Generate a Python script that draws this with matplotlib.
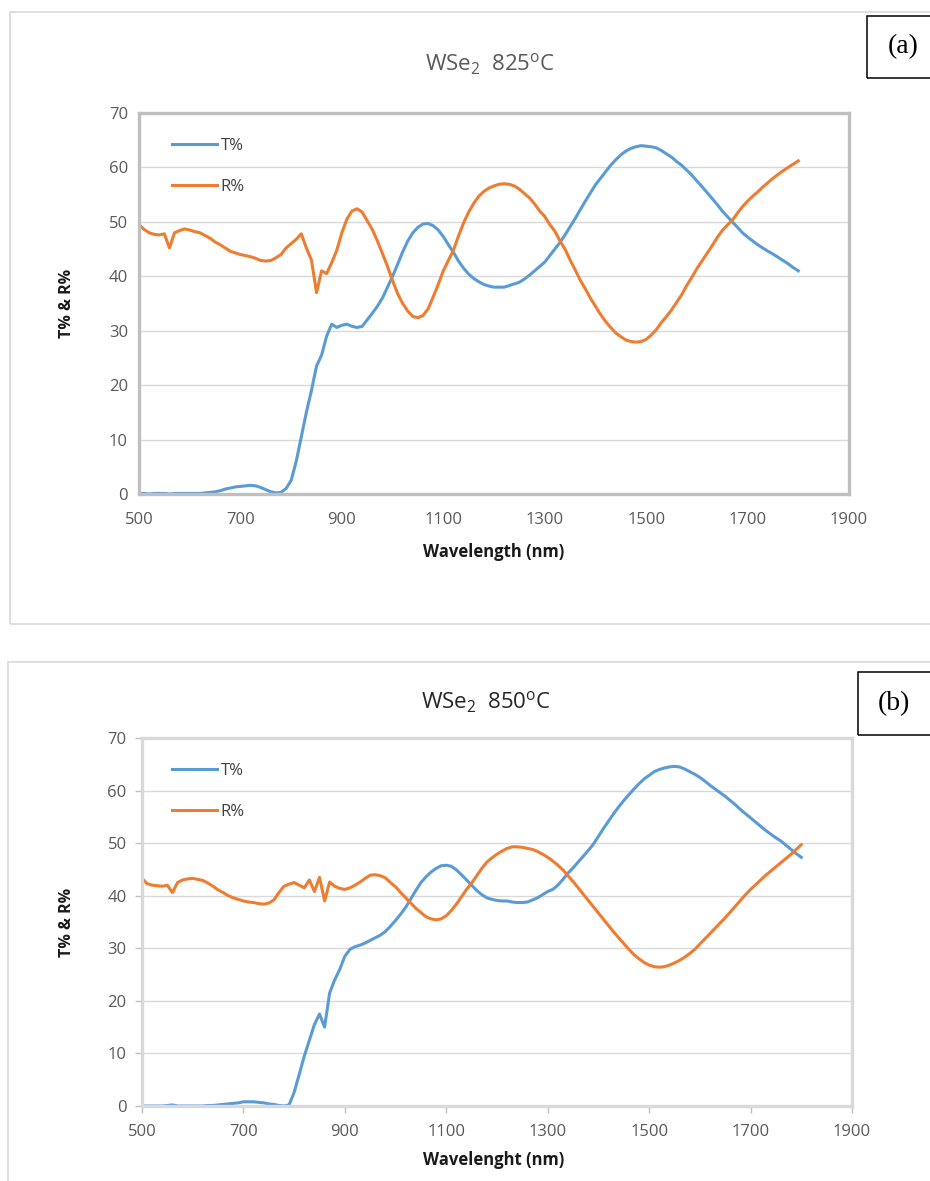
import numpy as np
import matplotlib
matplotlib.use("Agg")
import matplotlib.pyplot as plt
from matplotlib.patches import Rectangle

plt.rcParams['font.family'] = ['Open Sans', 'DejaVu Sans']
plt.rcParams['mathtext.fontset'] = 'custom'
plt.rcParams['mathtext.rm'] = 'Open Sans'

# wavelength grid (nm), 10 nm step
wl = np.arange(500, 1801, 10)

# WSe2 grown at 825 C
T_825 = [
    0.1, 0.1, 0.0, 0.1, 0.1, 0.1, 0.0, 0.1, 0.1, 0.1,
    0.1, 0.1, 0.1, 0.2, 0.3, 0.4, 0.6, 0.9, 1.1, 1.3,
    1.4, 1.5, 1.6, 1.5, 1.2, 0.8, 0.4, 0.2, 0.3, 1.0,
    2.5, 6.0, 10.5, 15.0, 19.0, 23.5, 25.5, 29.0, 31.2, 30.6,
    31.0, 31.2, 30.8, 30.6, 30.8, 32.0, 33.2, 34.5, 36.0, 38.0,
    40.0, 42.2, 44.5, 46.5, 48.0, 49.0, 49.6, 49.7, 49.3, 48.5,
    47.3, 45.8, 44.4, 42.8, 41.5, 40.4, 39.6, 39.0, 38.5, 38.2,
    38.0, 38.0, 38.0, 38.3, 38.6, 38.9, 39.5, 40.2, 41.0, 41.8,
    42.6, 43.8, 45.0, 46.2, 47.6, 49.1, 50.6, 52.2, 53.8, 55.3,
    56.8, 58.0, 59.2, 60.4, 61.4, 62.3, 63.0, 63.5, 63.8, 64.0,
    63.9, 63.8, 63.6, 63.1, 62.5, 61.9, 61.1, 60.4, 59.5, 58.6,
    57.5, 56.5, 55.4, 54.3, 53.2, 52.0, 51.0, 50.0, 49.0, 48.0,
    47.2, 46.5, 45.8, 45.2, 44.6, 44.1, 43.5, 42.9, 42.3, 41.6,
    41.0,
]
R_825 = [
    49.5, 48.6, 48.0, 47.7, 47.6, 47.8, 45.2, 48.0, 48.4, 48.7,
    48.5, 48.2, 48.0, 47.5, 47.0, 46.3, 45.8, 45.2, 44.6, 44.3,
    44.0, 43.8, 43.6, 43.3, 42.9, 42.8, 42.9, 43.4, 44.0, 45.2,
    46.0, 46.8, 47.8, 45.2, 43.0, 37.0, 41.0, 40.5, 42.5, 44.8,
    48.0, 50.5, 52.0, 52.4, 51.8, 50.2, 48.6, 46.5, 44.2, 41.8,
    39.2, 36.8, 35.0, 33.6, 32.6, 32.4, 32.8, 34.0, 36.2, 38.5,
    41.0, 42.9, 44.8, 47.4, 49.8, 51.8, 53.4, 54.7, 55.6, 56.2,
    56.6, 56.9, 57.0, 56.9, 56.6, 56.0, 55.2, 54.4, 53.3, 52.0,
    51.0, 49.5, 48.3, 46.5, 45.0, 43.0, 41.2, 39.3, 37.7, 36.0,
    34.5, 33.0, 31.7, 30.6, 29.6, 28.9, 28.3, 28.0, 27.9, 28.0,
    28.4, 29.2, 30.2, 31.5, 32.6, 33.8, 35.2, 36.6, 38.3, 39.8,
    41.4, 42.8, 44.2, 45.6, 47.1, 48.4, 49.4, 50.3, 51.6, 52.8,
    53.8, 54.7, 55.5, 56.4, 57.2, 58.0, 58.7, 59.4, 60.0, 60.6,
    61.2,
]

# WSe2 grown at 850 C
T_850 = [
    0.0, 0.0, 0.0, 0.0, 0.0, 0.1, 0.2, 0.0, 0.0, 0.0,
    0.0, 0.0, 0.0, 0.1, 0.1, 0.2, 0.3, 0.4, 0.5, 0.6,
    0.8, 0.8, 0.8, 0.7, 0.6, 0.4, 0.3, 0.1, 0.0, 0.2,
    2.6, 6.0, 9.5, 12.5, 15.5, 17.5, 15.0, 21.5, 24.0, 26.0,
    28.5, 29.8, 30.3, 30.6, 31.0, 31.5, 32.0, 32.5, 33.2, 34.2,
    35.3, 36.5, 37.8, 39.4, 41.0, 42.5, 43.6, 44.5, 45.2, 45.7,
    45.8, 45.6, 44.9, 44.0, 43.0, 42.0, 41.0, 40.2, 39.6, 39.3,
    39.1, 39.0, 39.0, 38.8, 38.7, 38.7, 38.8, 39.2, 39.6, 40.2,
    40.8, 41.2, 42.0, 43.1, 44.3, 45.3, 46.4, 47.5, 48.6, 49.8,
    51.3, 52.8, 54.2, 55.6, 56.9, 58.1, 59.2, 60.3, 61.3, 62.2,
    62.9, 63.6, 64.0, 64.3, 64.5, 64.6, 64.5, 64.1, 63.6, 63.1,
    62.5, 61.8, 61.0, 60.3, 59.6, 58.9, 58.1, 57.3, 56.4, 55.6,
    54.8, 54.0, 53.2, 52.4, 51.7, 51.0, 50.4, 49.6, 48.8, 48.0,
    47.3,
]
R_850 = [
    43.3, 42.3, 42.0, 41.9, 41.8, 42.0, 40.6, 42.5, 43.0, 43.2,
    43.3, 43.1, 42.9, 42.4, 41.8, 41.1, 40.6, 40.0, 39.6, 39.3,
    39.0, 38.8, 38.7, 38.5, 38.4, 38.6, 39.2, 40.6, 41.8, 42.2,
    42.5, 42.0, 41.5, 43.0, 40.8, 43.5, 39.0, 42.6, 41.8, 41.4,
    41.2, 41.5, 42.0, 42.6, 43.3, 43.9, 44.0, 43.8, 43.4, 42.5,
    41.7, 40.6, 39.6, 38.6, 37.6, 36.8, 36.0, 35.6, 35.4, 35.6,
    36.2, 37.2, 38.4, 39.8, 41.2, 42.4, 43.8, 45.2, 46.4, 47.2,
    47.9, 48.5, 49.0, 49.3, 49.3, 49.2, 49.0, 48.8, 48.4, 47.9,
    47.3, 46.6, 45.8, 44.9, 43.8, 42.7, 41.5, 40.3, 39.1, 37.9,
    36.7, 35.5, 34.3, 33.1, 32.0, 30.9, 29.8, 28.8, 28.0, 27.3,
    26.8, 26.5, 26.4, 26.5, 26.8, 27.2, 27.7, 28.3, 29.0, 29.8,
    30.8, 31.8, 32.8, 33.8, 34.8, 35.8, 36.9, 38.0, 39.1, 40.2,
    41.2, 42.1, 43.0, 43.9, 44.7, 45.5, 46.3, 47.1, 47.9, 48.8,
    49.7,
]

xticks = [500, 700, 900, 1100, 1300, 1500, 1700, 1900]
yticks = [0, 10, 20, 30, 40, 50, 60, 70]

blue = '#5B9BD5'
orange = '#ED7D31'

W, H = 930, 1181
fig = plt.figure(figsize=(W / 100, H / 100), dpi=100)


def fx(px):
    return px / W


def fy(py):
    return 1 - py / H


# outer frames of the two panels
fig.patches.append(Rectangle((fx(10), fy(624)), fx(930), 612 / H,
                             transform=fig.transFigure, fill=False,
                             ec='#D9D9D9', lw=1.2))
fig.patches.append(Rectangle((fx(8), fy(1190)), fx(932), 528 / H,
                             transform=fig.transFigure, fill=False,
                             ec='#D9D9D9', lw=1.2))

panels = [
    dict(box=(139, 113, 849, 494), T=T_825, R=R_825,
         title=r'WSe$_2$  825$^{\rm o}$C', title_xy=(490, 64), title_c='#595959',
         xlabel='Wavelength (nm)', xlabel_y=543,
         tag='(a)', tag_box=(867, 16, 940, 78), spine_c='#BFBFBF', ticks=False),
    dict(box=(142, 738, 852, 1106), T=T_850, R=R_850,
         title=r'WSe$_2$  850$^{\rm o}$C', title_xy=(486, 702), title_c='#262626',
         xlabel='Wavelenght (nm)', xlabel_y=1151,
         tag='(b)', tag_box=(858, 672, 940, 735), spine_c='#D9D9D9', ticks=True),
]

for p in panels:
    x0, y0, x1, y1 = p['box']
    ax = fig.add_axes([fx(x0), fy(y1), (x1 - x0) / W, (y1 - y0) / H])
    ax.plot(wl, p['T'], color=blue, lw=2.2, label='T%')
    ax.plot(wl, p['R'], color=orange, lw=2.2, label='R%')
    ax.set_xlim(500, 1900)
    ax.set_ylim(0, 70)
    ax.set_xticks(xticks)
    ax.set_yticks(yticks)
    ax.grid(axis='y', color='#D9D9D9', lw=1)
    ax.set_axisbelow(True)
    for s in ax.spines.values():
        s.set_color(p['spine_c'])
        s.set_linewidth(2.4)
    if p['ticks']:
        ax.tick_params(length=5, width=1, color='#BFBFBF', labelsize=12,
                       labelcolor='#595959')
        ax.tick_params(axis='x', pad=8)
        ax.tick_params(axis='y', pad=6)
    else:
        ax.tick_params(length=0, labelsize=12, labelcolor='#595959')
        ax.tick_params(axis='x', pad=13)
        ax.tick_params(axis='y', pad=8)

    ax.set_xlabel(p['xlabel'], fontsize=12, fontweight='bold', color='#1a1a1a')
    ax.xaxis.set_label_coords((494 - x0) / (x1 - x0), -(p['xlabel_y'] - y1) / (y1 - y0))
    ax.set_ylabel('T% & R%', fontsize=11.5, fontweight='bold', color='#1a1a1a')
    ax.yaxis.set_label_coords(-(x0 - 75) / (x1 - x0), 0.5)

    leg = ax.legend(loc='upper left',
                    bbox_to_anchor=((165 - x0) / (x1 - x0), 1 - 18 / (y1 - y0)),
                    frameon=False, fontsize=12, handlelength=2.7, handletextpad=0.25,
                    labelspacing=1.5, borderaxespad=0)
    for t in leg.get_texts():
        t.set_color('#404040')

    fig.text(fx(p['title_xy'][0]), fy(p['title_xy'][1]), p['title'], ha='center',
             va='center', fontsize=16, color=p['title_c'])

    bx0, by0, bx1, by1 = p['tag_box']
    fig.patches.append(Rectangle((fx(bx0), fy(by1)), (bx1 - bx0) / W, (by1 - by0) / H,
                                 transform=fig.transFigure, fill=False, ec='black', lw=1.1))
    fig.text(fx(bx0 + 36), fy((by0 + by1) / 2), p['tag'], ha='center', va='center',
             fontsize=20, family='Liberation Serif', color='black')

fig.savefig('out.png', dpi=100)
